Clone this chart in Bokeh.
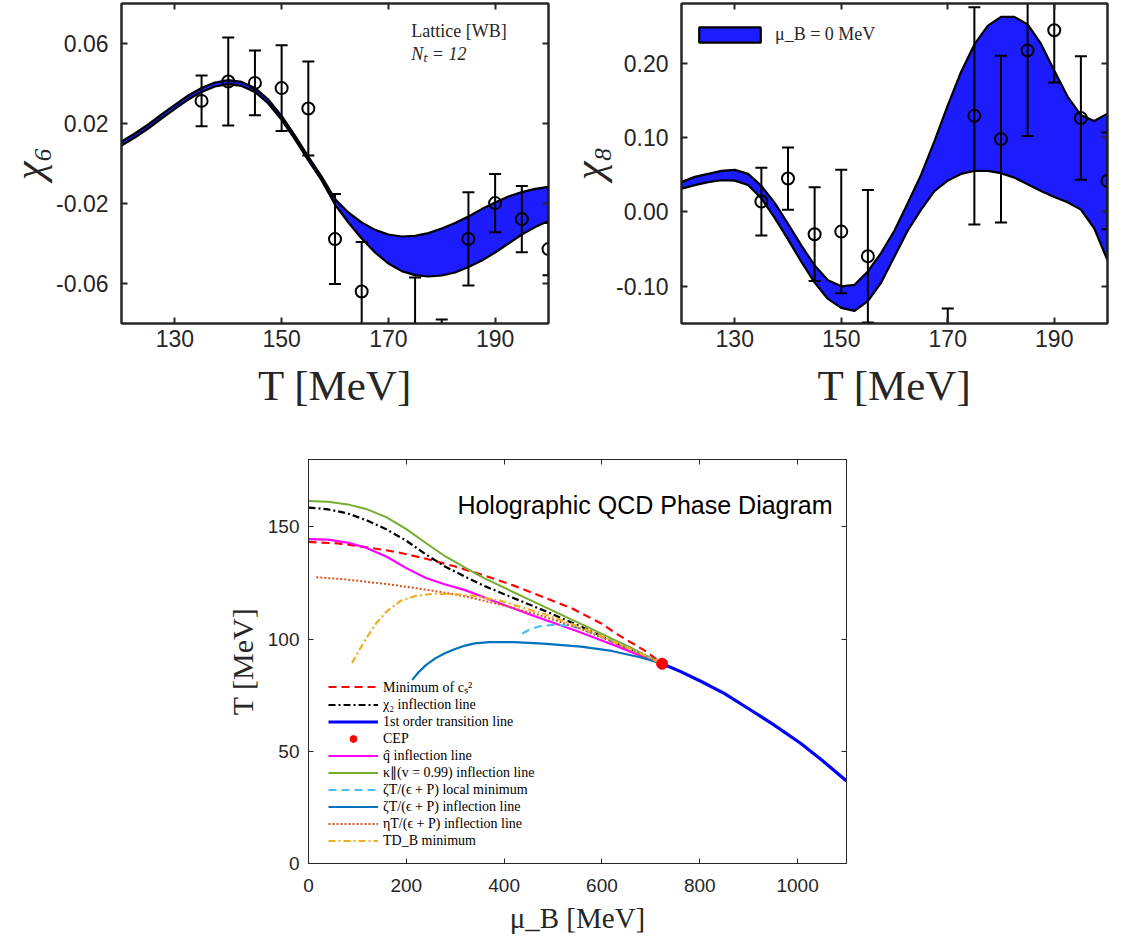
import numpy as np
from bokeh.plotting import figure
from bokeh.models import (Range1d, FixedTicker, LinearAxis, Label, Legend, LegendItem,
                          NumeralTickFormatter, CustomJSTickFormatter)
from bokeh.layouts import row, column
from bokeh.embed import file_html
from bokeh.resources import INLINE

# ---------------- data: chi6 panel ----------------
T_band = [120, 122.5, 125, 127.5, 130, 132.5, 135, 137.5, 140, 142.5, 145, 147.5, 150,
          152.5, 155, 157.5, 160, 162.5, 165, 167.5, 170, 172.5, 175, 177.5, 180, 182.5,
          185, 187.5, 190, 192.5, 195, 197.5, 200]
chi6_upper = [0.0110, 0.0150, 0.0195, 0.0245, 0.0293, 0.0340, 0.0378, 0.0405, 0.0417, 0.0408,
              0.0378, 0.0320, 0.0238, 0.0140, 0.0035, -0.0065, -0.0178, -0.0245, -0.0295,
              -0.0332, -0.0355, -0.0365, -0.0362, -0.0348, -0.0325, -0.0298, -0.0265, -0.0228,
              -0.0195, -0.0165, -0.0143, -0.0127, -0.0117]
chi6_lower = [0.0090, 0.0130, 0.0175, 0.0225, 0.0273, 0.0320, 0.0358, 0.0385, 0.0397, 0.0388,
              0.0358, 0.0300, 0.0218, 0.0120, 0.0015, -0.0085, -0.0205, -0.0295, -0.0375,
              -0.0445, -0.0500, -0.0538, -0.0558, -0.0565, -0.0560, -0.0545, -0.0518, -0.0485,
              -0.0445, -0.0400, -0.0355, -0.0318, -0.0287]
chi6_T = [135, 140, 145, 150, 155, 160, 165, 175, 180, 185, 190, 195, 200]
chi6_val = [0.0313, 0.0410, 0.0403, 0.0377, 0.0275, -0.0378, -0.0640, -0.0950, -0.1050,
            -0.0377, -0.0198, -0.0278, -0.0428]
chi6_err = [0.0127, 0.0220, 0.0162, 0.0214, 0.0235, 0.0225, 0.0248, 0.0380, 0.0270,
            0.0233, 0.0146, 0.0166, 0.0131]

# ---------------- data: chi8 panel ----------------
chi8_upper = [0.040, 0.047, 0.051, 0.055, 0.0565, 0.051, 0.035, 0.012, -0.016, -0.045, -0.072,
              -0.092, -0.100, -0.098, -0.080, -0.055, -0.025, 0.012, 0.050, 0.095, 0.143, 0.188,
              0.225, 0.250, 0.262, 0.262, 0.252, 0.226, 0.190, 0.155, 0.130, 0.122, 0.132]
chi8_lower = [0.031, 0.036, 0.040, 0.0425, 0.042, 0.036, 0.018, -0.008, -0.037, -0.067, -0.095,
              -0.117, -0.129, -0.133, -0.120, -0.095, -0.060, -0.025, 0.003, 0.028, 0.042, 0.051,
              0.055, 0.055, 0.052, 0.046, 0.037, 0.028, 0.020, 0.013, 0.003, -0.022, -0.065]
chi8_T = [135, 140, 145, 150, 155, 170, 175, 180, 185, 190, 195, 200]
chi8_val = [0.0139, 0.0448, -0.0300, -0.0265, -0.0596, -0.3300, 0.1290, 0.0978, 0.2170,
            0.2440, 0.1260, 0.0417]
chi8_err = [0.0455, 0.0418, 0.0630, 0.0830, 0.0890, 0.2000, 0.1460, 0.1120, 0.1150,
            0.0700, 0.0830, 0.0650]

# ---------------- data: phase diagram ----------------
cs2_mu = [0, 60, 120, 180, 240, 300, 360, 420, 480, 540, 600, 625, 650, 690, 723]
cs2_T = [143.3, 142.6, 140.9, 138.8, 135.8, 132.3, 128.3, 123.8, 118.7, 113.5, 106.8, 103.0,
         99.7, 94.5, 89.0]
chi2_mu = [0, 40, 80, 120, 160, 200, 240, 280, 320, 360, 400, 488, 564, 625, 680, 723]
chi2_T = [158.6, 157.8, 156.0, 152.8, 148.8, 143.8, 137.7, 132.2, 127.8, 123.6, 120.0, 112.1,
          104.9, 98.5, 93.5, 89.0]
first_mu = [723, 760, 802, 850, 904, 950, 1006, 1050, 1100]
first_T = [89.0, 85.6, 81.2, 75.8, 68.4, 62.0, 53.6, 46.0, 36.8]
cep_mu = [723]
cep_T = [89.0]
qhat_mu = [0, 40, 80, 120, 160, 200, 240, 280, 320, 360, 400, 461, 550, 625, 680, 723]
qhat_T = [144.5, 144.3, 143.0, 140.5, 136.7, 131.6, 127.2, 124.3, 121.8, 118.5, 115.2, 110.3,
          103.5, 97.2, 92.5, 89.0]
kappa_mu = [0, 40, 80, 120, 160, 200, 240, 280, 320, 360, 460, 560, 660, 723]
kappa_T = [161.5, 161.2, 160.0, 157.8, 154.2, 149.0, 142.8, 136.8, 131.8, 127.0, 116.7, 106.4,
           96.1, 89.0]
zmin_mu = [437, 455, 475, 500, 530, 556, 590, 625, 660, 693, 723]
zmin_T = [102.5, 104.5, 105.8, 106.3, 106.0, 104.8, 101.8, 98.8, 95.3, 92.1, 89.0]
zinf_mu = [212, 225, 240, 260, 280, 300, 320, 340, 370, 420, 480, 557, 620, 680, 723]
zinf_T = [81.8, 85.2, 88.4, 91.5, 93.8, 95.6, 97.1, 98.1, 98.6, 98.6, 98.0, 96.6, 94.7, 91.8,
          89.0]
eta_mu = [16, 70, 120, 170, 222, 275, 325, 390, 461, 510, 563, 615, 666, 723]
eta_T = [127.5, 126.7, 125.5, 124.2, 122.6, 120.8, 118.8, 115.5, 111.4, 108.0, 104.0, 99.4,
         94.3, 89.0]
tdb_mu = [89, 105, 120, 140, 160, 188, 220, 257, 300, 340, 393, 488, 560, 625, 680, 723]
tdb_T = [89.3, 95.5, 101.0, 107.5, 112.3, 117.0, 119.3, 120.2, 120.0, 119.2, 117.0, 110.7,
         105.0, 98.8, 93.5, 89.0]

legend_labels = ["Minimum of c\u209b\u00b2", "\u03c7\u2082 inflection line",
                 "1st order transition line", "CEP", "q\u0302 inflection line",
                 "\u03ba\u2225(v = 0.99) inflection line", "\u03b6T/(\u03f5 + P) local minimum",
                 "\u03b6T/(\u03f5 + P) inflection line", "\u03b7T/(\u03f5 + P) inflection line",
                 "TD_B minimum"]

INK = "#262626"
SANS = "Liberation Sans"
SERIF = "Liberation Serif"
BAND = "#1c1cff"


def hidden_axis(ticks, where, p, lw, tick_in):
    ax = LinearAxis(ticker=FixedTicker(ticks=ticks),
                    formatter=CustomJSTickFormatter(code="return ''"))
    ax.major_label_text_font_size = "1px"
    ax.major_label_standoff = 0
    ax.major_tick_in = tick_in
    ax.major_tick_out = 0
    ax.minor_tick_line_color = None
    ax.axis_line_color = INK
    ax.axis_line_width = lw
    ax.major_tick_line_color = INK
    ax.major_tick_line_width = lw
    p.add_layout(ax, where)


def style(p, xticks, yticks, fs, lw, tick_in, xlabel, xls, xstand, xmstand,
          ylabel, yls, ystand, ymstand, yitalic):
    p.xgrid.grid_line_color = None
    p.ygrid.grid_line_color = None
    p.outline_line_color = INK
    p.outline_line_width = lw
    p.background_fill_color = "white"
    p.border_fill_color = "white"
    xa = p.below[0]
    ya = p.left[0]
    for ax, ticks in ((xa, xticks), (ya, yticks)):
        ax.ticker = FixedTicker(ticks=ticks)
        ax.major_tick_in = tick_in
        ax.major_tick_out = 0
        ax.minor_tick_line_color = None
        ax.axis_line_color = INK
        ax.axis_line_width = lw
        ax.major_tick_line_color = INK
        ax.major_tick_line_width = lw
        ax.major_label_text_font = SANS
        ax.major_label_text_font_size = fs
        ax.major_label_text_color = INK
        ax.axis_label_text_font = SERIF
        ax.axis_label_text_color = INK
    xa.axis_label = xlabel
    xa.axis_label_text_font_size = xls
    xa.axis_label_text_font_style = "normal"
    xa.axis_label_standoff = xstand
    xa.major_label_standoff = xmstand
    ya.axis_label = ylabel
    ya.axis_label_text_font_size = yls
    ya.axis_label_text_font_style = "italic" if yitalic else "normal"
    ya.axis_label_standoff = ystand
    ya.major_label_standoff = ymstand
    hidden_axis(xticks, "above", p, lw, tick_in)
    hidden_axis(yticks, "right", p, lw, tick_in)
    return xa, ya


def chi_panel(upper, lower, T, val, err, yr, yticks, ylabel, border_left, fw, border_right):
    p = figure(frame_width=fw, frame_height=320, min_border_left=border_left,
               min_border_right=border_right, min_border_top=3, min_border_bottom=107,
               x_range=Range1d(120, 200), y_range=Range1d(*yr),
               output_backend="svg", toolbar_location=None)
    tb = np.array(T_band, dtype=float)
    xs = np.concatenate([tb, tb[::-1]])
    ys = np.concatenate([np.array(upper), np.array(lower)[::-1]])
    band = p.patch(xs, ys, fill_color=BAND, line_color="black", line_width=2.2)
    T = np.array(T, dtype=float)
    v = np.array(val)
    e = np.array(err)
    p.segment(x0=T, y0=v - e, x1=T, y1=v + e, line_color="black", line_width=2)
    p.scatter(T, v + e, marker="dash", size=12, line_color="black", line_width=2)
    p.scatter(T, v - e, marker="dash", size=12, line_color="black", line_width=2)
    p.scatter(T, v, marker="circle", size=12, fill_color=None, line_color="black",
              line_width=2)
    xa, ya = style(p, [130, 150, 170, 190], yticks, "23px", 2, 6,
                   "T [MeV]", "43px", 12, 6, ylabel, "42px", 1, 13, True)
    xa.formatter = NumeralTickFormatter(format="0")
    ya.formatter = NumeralTickFormatter(format="0.00")
    return p, band


p1, band1 = chi_panel(chi6_upper, chi6_lower, chi6_T, chi6_val, chi6_err, (-0.08, 0.08),
                      [-0.06, -0.02, 0.02, 0.06], "\u03c7\u2086", 121, 427, 12)
p1.add_layout(Label(x=174.3, y=0.0665, text="Lattice [WB]", text_font=SERIF,
                    text_font_size="18px", text_color=INK, text_baseline="middle"))
p1.add_layout(Label(x=174.3, y=0.0550, text="N\u209c = 12", text_font=SERIF,
                    text_font_size="18px", text_font_style="italic", text_color=INK,
                    text_baseline="middle"))

p2, band2 = chi_panel(chi8_upper, chi8_lower, chi8_T, chi8_val, chi8_err, (-0.15, 0.28),
                      [-0.10, 0.00, 0.10, 0.20], "\u03c7\u2088", 121, 426, 15)
leg2 = Legend(items=[LegendItem(label="\u03bc_B = 0 MeV", renderers=[band2])],
              location=(10, 278), glyph_width=77, glyph_height=19, label_standoff=7,
              padding=5, margin=0, border_line_color=None, background_fill_alpha=0,
              label_text_font=SERIF, label_text_font_size="18px", label_text_color=INK)
p2.add_layout(leg2)

# ---------------- phase diagram ----------------
p3 = figure(frame_width=538, frame_height=404, min_border_left=308, min_border_right=20,
            min_border_top=29, min_border_bottom=82,
            x_range=Range1d(0, 1100), y_range=Range1d(0, 180),
            output_backend="svg", toolbar_location=None)
r_cs2 = p3.line(cs2_mu, cs2_T, line_color="#FF0000", line_width=2.2, line_dash="8 5")
r_chi2 = p3.line(chi2_mu, chi2_T, line_color="black", line_width=2.2, line_dash="7 3 2 3")
r_first = p3.line(first_mu, first_T, line_color="#0000FF", line_width=3.2)
r_qhat = p3.line(qhat_mu, qhat_T, line_color="#FF00FF", line_width=2.2)
r_kappa = p3.line(kappa_mu, kappa_T, line_color="#77AC30", line_width=2)
r_zmin = p3.line(zmin_mu, zmin_T, line_color="#4DBEEE", line_width=2.2, line_dash="8 5")
r_zinf = p3.line(zinf_mu, zinf_T, line_color="#0072BD", line_width=2.2)
r_eta = p3.line(eta_mu, eta_T, line_color="#D95319", line_width=2, line_dash="2 2")
r_tdb = p3.line(tdb_mu, tdb_T, line_color="#EDB120", line_width=2.2, line_dash="7 3 2 3")
r_cep = p3.scatter(cep_mu, cep_T, marker="circle", size=11, fill_color="#FF0000",
                   line_color="#FF0000")
xa3, ya3 = style(p3, [0, 200, 400, 600, 800, 1000], [0, 50, 100, 150], "19px", 1, 5,
                 "\u03bc_B [MeV]", "29px", 7, 15, "T [MeV]", "30px", 6, 9, False)
xa3.formatter = NumeralTickFormatter(format="0")
ya3.formatter = NumeralTickFormatter(format="0")
p3.add_layout(Label(x=688, y=159.6, text="Holographic QCD Phase Diagram", text_font=SANS,
                    text_font_size="25px", text_color="black", text_align="center",
                    text_baseline="middle"))
renderers = [r_cs2, r_chi2, r_first, r_cep, r_qhat, r_kappa, r_zmin, r_zinf, r_eta, r_tdb]
leg3 = Legend(items=[LegendItem(label=l, renderers=[r]) for l, r in zip(legend_labels, renderers)],
              location=(20, 14), glyph_width=50, glyph_height=17, label_height=17, spacing=0,
              label_standoff=5, padding=5, margin=0, border_line_color=None,
              background_fill_alpha=0, label_text_font=SERIF, label_text_font_size="14px",
              label_text_color="black")
p3.add_layout(leg3)

layout = column(row(p1, p2), p3)
open("out.html", "w").write(file_html(layout, INLINE))
